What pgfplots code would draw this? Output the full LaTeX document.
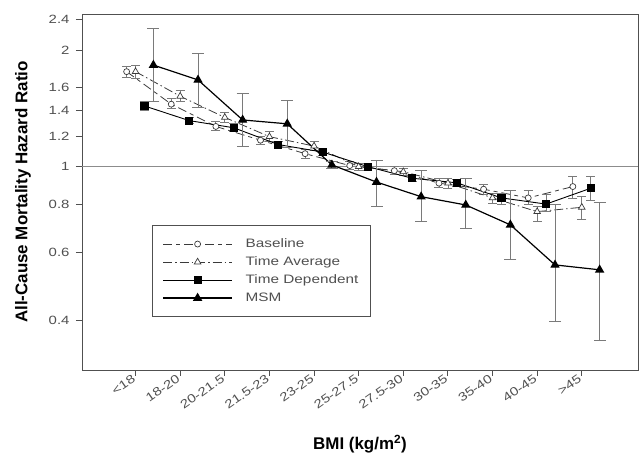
\documentclass[border=0pt]{standalone}
\usepackage{fontspec}
\setmainfont{Liberation Sans}[FakeStretch=1.25]
\newfontfamily\labfont{Liberation Sans}
\usepackage{pgfplots}
\pgfplotsset{compat=1.18}
\definecolor{axgray}{HTML}{505050}
\definecolor{refgray}{HTML}{8C8C8C}
\definecolor{ebgray}{HTML}{7A7A7A}
\definecolor{lin}{HTML}{3A3A3A}
\begin{document}
\begin{tikzpicture}
\begin{axis}[
  scale only axis, width=556bp, height=356bp,
  xmin=-1.2, xmax=11.26, ymode=log, ymin=0.298, ymax=2.48,
  axis line style={axgray, line width=0.9pt},
  tick style={axgray, line width=0.9pt},
  tick align=outside, tick pos=left, major tick length=6bp,
  xtick={0,...,10},
  xticklabels={<18,18-20,20-21.5,21.5-23,23-25,25-27.5,27.5-30,30-35,35-40,40-45,>45},
  ytick={0.4,0.6,0.8,1,1.2,1.4,1.6,2,2.4},
  yticklabels={0.4,0.6,0.8,1,1.2,1.4,1.6,2,2.4},
  yminorticks=false,
  ticklabel style={font=\fontsize{12}{14}\selectfont, text=axgray},
  xticklabel style={rotate=35, anchor=east, inner sep=2bp},
  yticklabel style={xshift=-3bp},
  /pgf/number format/assume math mode=true,
  xlabel={\labfont\bfseries BMI (kg/m\textsuperscript{2})},
  xlabel style={at={(rel axis cs:0.5,-0.208)}, anchor=center, font=\fontsize{17}{20}\selectfont},
  ylabel={\labfont\bfseries All-Cause Mortality Hazard Ratio},
  ylabel style={at={(rel axis cs:-0.106,0.5)}, anchor=center, rotate=0, font=\fontsize{17}{20}\selectfont},
  legend style={at={(rel axis cs:0.126,0.407)}, anchor=north west, draw=axgray, line width=0.9pt, fill=white,
    inner xsep=10bp, inner ysep=9.5bp, font=\fontsize{12.3}{14}\selectfont, text=axgray,
    nodes={text height=10.2bp, text depth=3.8bp, inner sep=2bp},
    /tikz/every odd column/.append style={column sep=11bp}},
  legend cell align=left,
  legend image code/.code={\draw[mark repeat=2, mark phase=2] plot coordinates {(0bp,0bp)(34.5bp,0bp)(69bp,0bp)};},
  error bars/y dir=both, error bars/y explicit,
]
\addplot[refgray, line width=1.6pt, forget plot] coordinates {(-1.2,1) (11.26,1)};

\addplot[lin, line width=0.8pt, dash pattern=on 9bp off 4bp on 4bp off 4bp,
  mark=*, mark size=3bp, mark options={fill=white, draw=lin, solid, line width=0.7pt},
  error bars/error bar style={ebgray, line width=0.8pt, solid},
  error bars/error mark options={rotate=90, ebgray, line width=0.8pt, mark size=4.5bp, solid}]
table[x=x, y=y, y error plus=ep, y error minus=em] {
x y ep em
-0.2 1.76 0.06 0.06
0.8 1.45 0.05 0.04
1.8 1.27 0.04 0.03
2.8 1.17 0.03 0.03
3.8 1.08 0.03 0.03
4.8 1.006 0.024 0.021
5.8 0.976 0.024 0.021
6.8 0.906 0.024 0.021
7.8 0.874 0.023 0.024
8.8 0.83 0.037 0.03
9.8 0.888 0.058 0.058
};
\addlegendentry{Baseline}

\addplot[lin, line width=0.8pt, dash pattern=on 9bp off 3bp on 1.5bp off 3bp,
  mark=triangle*, mark size=3.8bp, mark options={fill=white, draw=lin, solid, line width=0.7pt},
  error bars/error bar style={ebgray, line width=0.8pt, solid},
  error bars/error mark options={rotate=90, ebgray, line width=0.8pt, mark size=4.5bp, solid}]
table[x=x, y=y, y error plus=ep, y error minus=em] {
x y ep em
0 1.76 0.07 0.07
1 1.52 0.05 0.05
2 1.34 0.04 0.04
3 1.195 0.035 0.035
4 1.13 0.03 0.03
5 1.0 0.02 0.02
6 0.97 0.02 0.02
7 0.906 0.024 0.026
8 0.83 0.025 0.025
9 0.765 0.025 0.045
10 0.785 0.051 0.053
};
\addlegendentry{Time Average}

\addplot[black, line width=0.9pt, solid,
  mark=square*, mark size=3.6bp, mark options={fill=black, solid},
  error bars/error bar style={ebgray, line width=0.8pt, solid},
  error bars/error mark options={rotate=90, ebgray, line width=0.8pt, mark size=4.5bp, solid}]
table[x=x, y=y, y error plus=ep, y error minus=em] {
x y ep em
0.2 1.435 0.035 0.035
1.2 1.315 0.025 0.025
2.2 1.26 0.03 0.03
3.2 1.14 0.02 0.02
4.2 1.09 0.02 0.02
5.2 1.0 0.02 0.02
6.2 0.933 0.017 0.018
7.2 0.908 0.017 0.018
8.2 0.83 0.025 0.03
9.2 0.80 0.045 0.035
10.2 0.879 0.067 0.059
};
\addlegendentry{Time Dependent}

\addplot[black, line width=1.2pt, solid,
  mark=triangle*, mark size=4.2bp, mark options={fill=black, solid},
  error bars/error bar style={ebgray, line width=0.9pt, solid},
  error bars/error mark options={rotate=90, ebgray, line width=0.9pt, mark size=6bp, solid}]
table[x=x, y=y, y error plus=ep, y error minus=em] {
x y ep em
0.4 1.83 0.44 0.36
1.4 1.675 0.285 0.255
2.4 1.32 0.23 0.19
3.4 1.29 0.19 0.17
4.4 1.01 0.02 0.02
5.4 0.912 0.123 0.122
6.4 0.836 0.139 0.116
7.4 0.796 0.134 0.106
8.4 0.707 0.159 0.13
9.4 0.557 0.243 0.16
10.4 0.541 0.266 0.185
};
\addlegendentry{MSM}
\end{axis}
\pgfresetboundingbox
\path (-82bp,-84bp) rectangle (557bp,370bp);
\end{tikzpicture}
\end{document}
